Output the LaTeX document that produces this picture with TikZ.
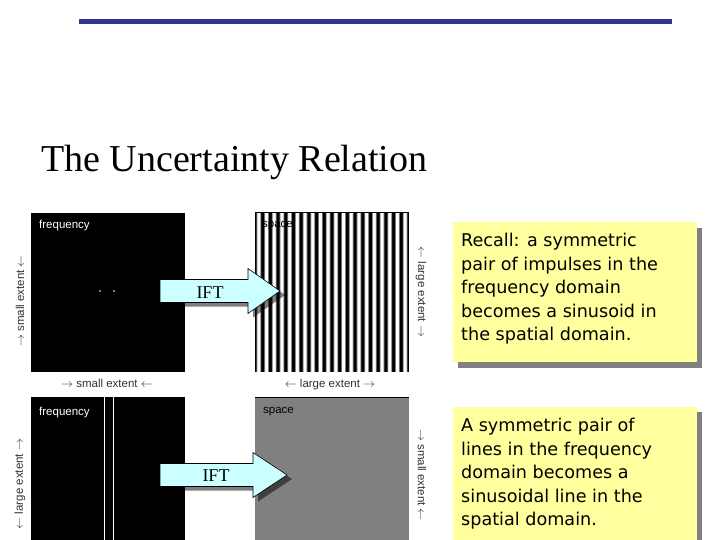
\documentclass[tikz,border=0pt]{standalone}
\usepackage{fontspec}
\setmainfont{Liberation Serif}
\newfontfamily\labelfont{Liberation Sans}
\newfontfamily\notefont{DejaVu Sans}
\definecolor{barblue}{RGB}{51,51,145}
\definecolor{arrowcyan}{RGB}{204,255,255}
\definecolor{noteyellow}{RGB}{255,255,158}
\definecolor{panelgray}{RGB}{128,128,128}

\begin{document}
\begin{tikzpicture}[x=1pt,y=-1pt,
  extent/.style={font=\labelfont\fontsize{11.5}{13}\selectfont, text=black!80, inner sep=0pt},
  panel/.style={font=\labelfont\fontsize{11.5}{13}\selectfont, anchor=base west, inner sep=0pt},
  note/.style={font=\notefont\fontsize{17.6}{23.5}\selectfont, align=left, anchor=north west, inner sep=0pt},
  ift/.style={fill=arrowcyan, draw=black, line width=0.6pt},
  iftlabel/.style={font=\fontsize{18}{18}\selectfont, anchor=base, inner sep=0pt},
  shadow/.style={fill=black, opacity=0.5}]

\useasboundingbox (0,0) rectangle (720,540);
\fill[white] (0,0) rectangle (720,540);

% Top bar
\fill[barblue] (79,19) rectangle (672,24);

% Title
\node[anchor=base west, inner sep=0pt, font=\fontsize{38}{40}\selectfont] (title) at (41,172) {The Uncertainty Relation};

% Frequency panel, top: pair of impulses
\fill[black] (31,213) rectangle (185,372);
\fill[white] (100,291) circle (0.8);
\fill[white] (114,291) circle (0.8);
\node[panel, text=white] (freqA) at (39,229) {frequency};

% Space panel, top: sinusoid stripes
\foreach \i in {0,...,153} {
  \pgfmathsetmacro\g{max(0,min(100,50+70*cos(46.75*(\i+0.5))))}
  \fill[black!\g] (255+\i,213) rectangle (256+\i,372);
}
\draw[line width=1pt] (255,212.5) -- (409,212.5);
\node[panel] (spaceA) at (262,228) {space};

% IFT arrow, top
\fill[shadow] (165,283.5) -- (253,283.5) -- (253,272.5) -- (285,295) -- (253,317.5) -- (253,306.5) -- (165,306.5) -- cycle;
\draw[ift] (160,279.5) -- (248,279.5) -- (248,268.5) -- (280,291) -- (248,313.5) -- (248,302.5) -- (160,302.5) -- cycle;
\node[iftlabel] (iftA) at (210,298) {IFT};

% Extent labels, top row
\node[extent, rotate=90] (extA) at (20,301) {$\rightarrow$ small extent $\leftarrow$};
\node[extent, rotate=-90] (extB) at (421,292) {$\leftarrow$ large extent $\rightarrow$};
\node[extent, anchor=base] (extC) at (107,387) {$\rightarrow$ small extent $\leftarrow$};
\node[extent, anchor=base] (extD) at (330,387) {$\leftarrow$ large extent $\rightarrow$};

% Note, top
\fill[panelgray] (458,228) rectangle (702,368);
\fill[noteyellow] (453,222) rectangle (697,362);
\node[note] (noteA) at (461,233) {Recall: a symmetric\\pair of impulses in the\\frequency domain\\becomes a sinusoid in\\the spatial domain.};

% Frequency panel, bottom: pair of lines
\fill[black] (31,397) rectangle (185,540);
\draw[white, line width=1pt] (104,397) -- (104,540);
\draw[white, line width=1pt] (113,397) -- (113,540);
\node[panel, text=white] (freqB) at (39,415) {frequency};

% Space panel, bottom: flat gray
\fill[panelgray] (255,397) rectangle (409,540);
\draw[line width=1pt] (255,397) -- (409,397);
\node[panel] (spaceB) at (263,413) {space};

% IFT arrow, bottom
\fill[shadow] (165,467.5) -- (258,467.5) -- (258,456.5) -- (292,479) -- (258,501.5) -- (258,490.5) -- (165,490.5) -- cycle;
\draw[ift] (160,463.5) -- (253,463.5) -- (253,452.5) -- (287,475) -- (253,497.5) -- (253,486.5) -- (160,486.5) -- cycle;
\node[iftlabel] (iftB) at (216,481) {IFT};

% Extent labels, bottom row
\node[extent, rotate=90] (extE) at (20,484) {$\leftarrow$ large extent $\rightarrow$};
\node[extent, rotate=-90] (extF) at (422,475) {$\rightarrow$ small extent $\leftarrow$};

% Note, bottom
\fill[panelgray] (458,412) rectangle (702,545);
\fill[noteyellow] (453,407) rectangle (697,540);
\node[note] (noteB) at (461,418) {A symmetric pair of\\lines in the frequency\\domain becomes a\\sinusoidal line in the\\spatial domain.};

\end{tikzpicture}
\end{document}
